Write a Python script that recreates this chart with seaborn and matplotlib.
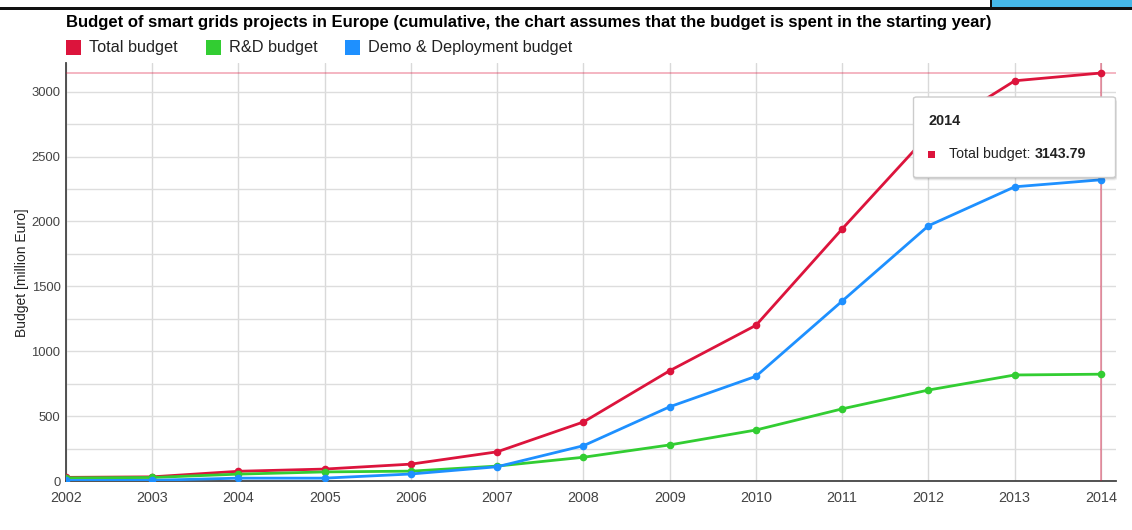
import pandas as pd
import matplotlib
matplotlib.use("Agg")
import matplotlib.pyplot as plt
from matplotlib.patches import Rectangle, FancyBboxPatch
import seaborn as sns

# ---- data -------------------------------------------------------------
years = list(range(2002, 2015))
total_budget = [28, 32, 75, 92, 130, 225, 455, 850, 1200, 1943, 2668, 3084, 3143.79]
rd_budget = [24, 27, 53, 70, 76, 115, 183, 278, 393, 556, 701, 817, 823]
demo_budget = [4, 5, 22, 22, 54, 110, 272, 572, 807, 1387, 1967, 2267, 2321]

series_names = ["Total budget", "R&D budget", "Demo & Deployment budget"]
series_colors = ["#DC143C", "#32CD32", "#1E90FF"]
y_ticks = [0, 500, 1000, 1500, 2000, 2500, 3000]
title = ("Budget of smart grids projects in Europe (cumulative, the chart "
         "assumes that the budget is spent in the starting year)")
y_label = "Budget [million Euro]"

df = pd.DataFrame({
    "year": years * 3,
    "value": total_budget + rd_budget + demo_budget,
    "series": [series_names[0]] * len(years)
              + [series_names[1]] * len(years)
              + [series_names[2]] * len(years),
})

# ---- style ------------------------------------------------------------
sns.set_theme(style="white")
plt.rcParams["font.family"] = ["Liberation Sans", "DejaVu Sans"]

W, H = 1132, 530
fig = plt.figure(figsize=(W / 100, H / 100), dpi=100)


def fx(x):
    return x / W


def fy(y):
    return 1 - y / H


ax = fig.add_axes([fx(66), fy(481), (1116 - 66) / W, (481 - 63) / H])

sns.lineplot(data=df, x="year", y="value", hue="series",
             hue_order=series_names, palette=series_colors,
             marker="o", markersize=5.5, markeredgewidth=0,
             linewidth=2, legend=False, ax=ax, zorder=4)

ax.set_xlim(years[0], years[-1] + 0.174)
ax.set_ylim(0, 3221)
ax.set_xticks(years)
ax.set_xticklabels([str(y) for y in years])
ax.set_yticks(y_ticks)
ax.set_yticks(list(range(250, 3250, 500)), minor=True)
ax.grid(True, which="both", axis="y", color="#dddddd", linewidth=1)
ax.grid(True, which="major", axis="x", color="#d9d9d9", linewidth=1)
ax.set_axisbelow(True)
ax.tick_params(axis="both", which="both", length=0)
ax.tick_params(axis="y", labelsize=9.4, labelcolor="#444444", pad=4)
ax.tick_params(axis="x", labelsize=10.4, labelcolor="#444444", pad=7)
ax.set_xlabel("")
ax.set_ylabel("")
for side in ("top", "right"):
    ax.spines[side].set_visible(False)
for side in ("left", "bottom"):
    ax.spines[side].set_color("#444444")
    ax.spines[side].set_linewidth(1.3)

fig.text(fx(22), fy(273), y_label, rotation=90, ha="center", va="center",
         fontsize=10, color="#222222")

# crosshair on the last total-budget point
ax.axvline(years[-1], color=series_colors[0], alpha=0.5, linewidth=1.1, zorder=3)
ax.axhline(total_budget[-1], color=series_colors[0], alpha=0.4, linewidth=1.1, zorder=3)

# ---- title and legend -------------------------------------------------
fig.text(fx(66), fy(22), title, ha="left", va="center",
         fontsize=12, fontweight="bold", color="#000000")

legend_x = [66, 206, 345]
for lx, name, col in zip(legend_x, series_names, series_colors):
    fig.patches.append(Rectangle((fx(lx), fy(55)), 15 / W, 15 / H,
                                 transform=fig.transFigure, facecolor=col,
                                 edgecolor="none"))
    fig.text(fx(lx + 23), fy(47.5), name, ha="left", va="center",
             fontsize=11.7, color="#222222")

# ---- header strip -----------------------------------------------------
fig.patches.append(Rectangle((fx(991), fy(7)), (W - 991) / W, 7 / H,
                             transform=fig.transFigure, facecolor="#45B8E9",
                             edgecolor="none"))
fig.patches.append(Rectangle((0, fy(9.5)), 1, 2.5 / H,
                             transform=fig.transFigure, facecolor="#111111",
                             edgecolor="none"))
fig.patches.append(Rectangle((fx(989.5), fy(9.5)), 2.5 / W, 9.5 / H,
                             transform=fig.transFigure, facecolor="#111111",
                             edgecolor="none"))

# ---- tooltip ----------------------------------------------------------
tx0, ty0, tx1, ty1 = 913.5, 97, 1115.5, 177.5
for off, a in ((3, 0.06), (2, 0.08), (1, 0.10)):
    fig.patches.append(FancyBboxPatch(
        (fx(tx0), fy(ty1 + off)), (tx1 - tx0 + off * 0.5) / W, (ty1 - ty0) / H,
        boxstyle="round,pad=0,rounding_size=0.003",
        transform=fig.transFigure, facecolor="black", alpha=a,
        edgecolor="none", zorder=20))
fig.patches.append(FancyBboxPatch(
    (fx(tx0), fy(ty1)), (tx1 - tx0) / W, (ty1 - ty0) / H,
    boxstyle="round,pad=0,rounding_size=0.003",
    transform=fig.transFigure, facecolor="white", edgecolor="#cccccc",
    linewidth=1, zorder=21))
fig.text(fx(928), fy(121), str(years[-1]), ha="left", va="center",
         fontsize=10.4, fontweight="bold", color="#222222", zorder=22)
fig.patches.append(Rectangle((fx(928), fy(157.5)), 7 / W, 7 / H,
                             transform=fig.transFigure,
                             facecolor=series_colors[0], edgecolor="none",
                             zorder=22))
t_lab = fig.text(fx(949), fy(154), f"{series_names[0]}: ", ha="left",
                 va="center", fontsize=10.2, color="#222222", zorder=22)
fig.canvas.draw()
bb = t_lab.get_window_extent(renderer=fig.canvas.get_renderer())
fig.text(bb.x1 / W, fy(154), f"{total_budget[-1]:.2f}", ha="left",
         va="center", fontsize=10.2, fontweight="bold", color="#222222",
         zorder=22)

fig.savefig("out.png", dpi=100)
